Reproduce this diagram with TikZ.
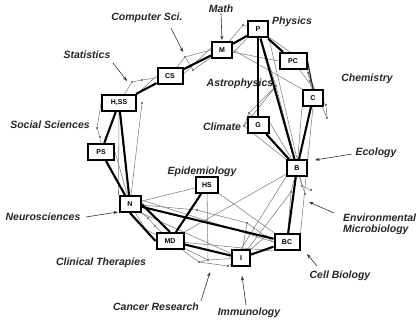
\documentclass[tikz,border=0pt]{standalone}
\usepackage{fontspec}
\setmainfont{Liberation Sans}
\usetikzlibrary{backgrounds,arrows.meta}
\begin{document}
\begin{tikzpicture}[x=1pt,y=-1pt,
  box/.style={draw=black, line width=2pt, fill=white, minimum height=16pt, inner sep=0pt, font=\bfseries\fontsize{7}{8}\selectfont},
  lbl/.style={font=\bfseries\itshape\fontsize{10.5}{12}\selectfont, text=black!85, inner sep=0pt},
  strong/.style={line width=2.1pt, black},
  mid/.style={line width=1.2pt, black!85},
  weak/.style={line width=0.55pt, black!50},
  dotn/.style={circle, fill=black!70, inner sep=0pt, minimum size=2.4pt},
  pointer/.style={line width=0.6pt, black!80, -{Stealth[length=4.5pt,width=3.2pt]}},
]
\useasboundingbox (0,0) rectangle (420,320);

% boxes
\node[box, minimum width=20pt] (P) at (258,29.5) {P};
\node[box, minimum width=20pt] (M) at (222,50) {M};
\node[box, minimum width=27pt] (PC) at (293,61) {PC};
\node[box, minimum width=20pt] (C) at (313,98) {C};
\node[box, minimum width=21pt] (G) at (258,125) {G};
\node[box, minimum width=20pt] (B) at (297,168) {B};
\node[box, minimum width=25pt] (BC) at (287,242) {BC};
\node[box, minimum width=18pt] (I) at (241,258) {I};
\node[box, minimum width=27pt] (MD) at (170,241) {MD};
\node[box, minimum width=21pt] (N) at (130,204) {N};
\node[box, minimum width=22pt] (HS) at (207,185) {HS};
\node[box, minimum width=26pt] (PS) at (101,152) {PS};
\node[box, minimum width=34pt] (HSS) at (119,103) {H,SS};
\node[box, minimum width=25pt] (CS) at (170,76) {CS};

\begin{scope}[on background layer]
% small dots
\node[dotn] (s1) at (132,82) {};
\node[dotn] (s2) at (142,80) {};
\node[dotn] (c1) at (185,57) {};
\node[dotn] (c2) at (193,70) {};
\node[dotn] (m1) at (243,25) {};
\node[dotn] (a1) at (276,86) {};
\node[dotn] (g1) at (249,113) {};
\node[dotn] (g2) at (244,126) {};
\node[dotn] (k1) at (307,64) {};
\node[dotn] (k2) at (308,73) {};
\node[dotn] (k3) at (310,81) {};
\node[dotn] (k4) at (326,105) {};
\node[dotn] (k5) at (327,118) {};
\node[dotn] (so1) at (97,128) {};
\node[dotn] (so2) at (100,137) {};
\node[dotn] (h1) at (142,103) {};
\node[dotn] (b1) at (302,186) {};
\node[dotn] (b2) at (311,190) {};
\node[dotn] (b3) at (305,194) {};
\node[dotn] (b4) at (291,192) {};
\node[dotn] (e1) at (197,210) {};
\node[dotn] (e2) at (247,223) {};
\node[dotn] (e3) at (208,260) {};
\node[dotn] (e4) at (199,262) {};
\node[dotn] (n1) at (148,218) {};
\node[dotn] (n2) at (155,226) {};
\node[dotn] (n3) at (146,230) {};
\node[dotn] (bc1) at (266,236) {};
\node[dotn] (i1) at (228,266) {};

% weak links
\draw[weak] (HSS) -- (s1) -- (s2) -- (CS);
\draw[weak] (HSS.north east) -- (CS.west);
\draw[weak] (CS) -- (c1) -- (c2) -- (M);
\draw[weak] (c1) -- (M.west);
\draw[weak] ([yshift=2pt]CS.east) -- ([yshift=2pt]M.west);
\draw[weak] (M) -- (m1) -- (P);
\draw[weak] ([yshift=-3pt]M.east) -- (P.south west);
\draw[weak] (M) -- (PC.west);
\draw[weak] (M.east) -- (C.north west);
\draw[weak] (P) -- (k1);
\draw[weak] (PC) -- (k1) -- (k2) -- (k3) -- (C);
\draw[weak] (C) -- (k4) -- (k5);
\draw[weak] (PC) -- (k4);
\draw[weak] (k2) -- (k5);
\draw[weak] (P) -- (a1);
\draw[weak] (a1) -- (g1) -- (g2) -- (B);
\draw[weak] (a1) -- (g2);
\draw[weak] (g1) -- (B);
\draw[weak] ([yshift=3pt]G.east) -- (B);
\draw[weak] (P.south east) -- (B.north);
\draw[weak] (a1) -- (B);
\draw[weak] (C.south west) -- (B);
\draw[weak] (C.south) -- (BC.north east);
\draw[weak] (B) -- (b1) -- (b2);
\draw[weak] (B) -- (b3);
\draw[weak] (B) -- (b4) -- (BC);
\draw[weak] (b4) -- (I);
\draw[weak] (B) -- (MD.north east);
\draw[weak] (B.south west) -- (I.north);
\draw[weak] (BC) -- (bc1) -- (I);
\draw[weak] (BC.west) -- (e2) -- (e1) -- (N);
\draw[weak] (e2) -- (I);
\draw[weak] (N) -- (HS);
\draw[weak] (HS) -- (e3) -- (I);
\draw[weak] (e3) -- (MD);
\draw[weak] (e4) -- (e3);
\draw[weak] (e4) -- (MD);
\draw[weak] (e4) -- (i1) -- (I);
\draw[weak] (N) -- (n1) -- (n2) -- (MD);
\draw[weak] (N) -- (n3) -- (MD);
\draw[weak] (HSS) -- (N.north west);
\draw[weak] (h1) -- (N);
\draw[weak] (PS.east) -- (N);
\draw[weak] (HSS.west) -- (so1) -- (so2) -- (PS);
\draw[weak] ([yshift=4pt]N.east) -- (BC.west);
\draw[weak] (N.south east) -- (I);
\draw[weak] (MD) -- (BC.south west);
\draw[weak] (HS) -- (BC);

% strong links
\draw[strong] (CS) -- (HSS);
\draw[strong] (CS) -- (M);
\draw[strong] (M) -- (P);
\draw[strong] (P) -- (PC);
\draw[mid] (PC.east) -- (C.north);
\draw[strong] (P) -- (G);
\draw[strong] (P) -- (B);
\draw[strong] (C) -- (B);
\draw[strong] (G) -- (B);
\draw[strong] (B) -- (BC);
\draw[strong] (BC) -- (I);
\draw[strong] (I) -- (MD);
\draw[strong] (N.east) -- (MD.north);
\draw[strong] (N.south) -- (MD.west);
\draw[strong] (MD) -- (HS);
\draw[strong] (N) -- (BC);
\draw[strong] (N) -- (PS);
\draw[strong] (N) -- (HSS);
\draw[strong] (HSS) -- (PS);
\end{scope}

% labels
\node[lbl] (lCS) at (147,18) {Computer Sci.};
\node[lbl] (lM) at (221,9) {Math};
\node[lbl] (lP) at (292,22) {Physics};
\node[lbl] (lST) at (87,55) {Statistics};
\node[lbl] (lCH) at (367,79) {Chemistry};
\node[lbl] (lAS) at (240,84) {Astrophysics};
\node[lbl] (lCL) at (222,127) {Climate};
\node[lbl] (lSO) at (50,125) {Social Sciences};
\node[lbl] (lEC) at (376,153) {Ecology};
\node[lbl] (lEP) at (202,172) {Epidemiology};
\node[lbl] (lNE) at (43,217) {Neurosciences};
\node[lbl, align=left, anchor=west] (lEM) at (343,224) {Environmental\\[-1pt]Microbiology};
\node[lbl] (lCT) at (101,263) {Clinical Therapies};
\node[lbl] (lCB) at (340,276) {Cell Biology};
\node[lbl] (lCR) at (156,307) {Cancer Research};
\node[lbl] (lIM) at (249,313) {Immunology};

% pointers
\coordinate (pCS) at (183,52);
\coordinate (pM) at (222,40);
\coordinate (pST) at (127,81);
\coordinate (pEC) at (315,160);
\coordinate (pEM) at (309,202);
\coordinate (pCB) at (307,254);
\coordinate (pIM) at (242,276);
\coordinate (pCR) at (210,272);
\coordinate (pNE) at (118,212);
\draw[pointer] (171,28) -- (pCS);
\draw[pointer] (lM.south) -- (pM);
\draw[pointer] (113,63) -- (pST);
\draw[pointer] (352,154) -- (pEC);
\draw[pointer] (334,213) -- (pEM);
\draw[pointer] (317,266) -- (pCB);
\draw[pointer] (246,305) -- (pIM);
\draw[pointer] (201,301) -- (pCR);
\draw[pointer] (86,217) -- (pNE);
\end{tikzpicture}
\end{document}
